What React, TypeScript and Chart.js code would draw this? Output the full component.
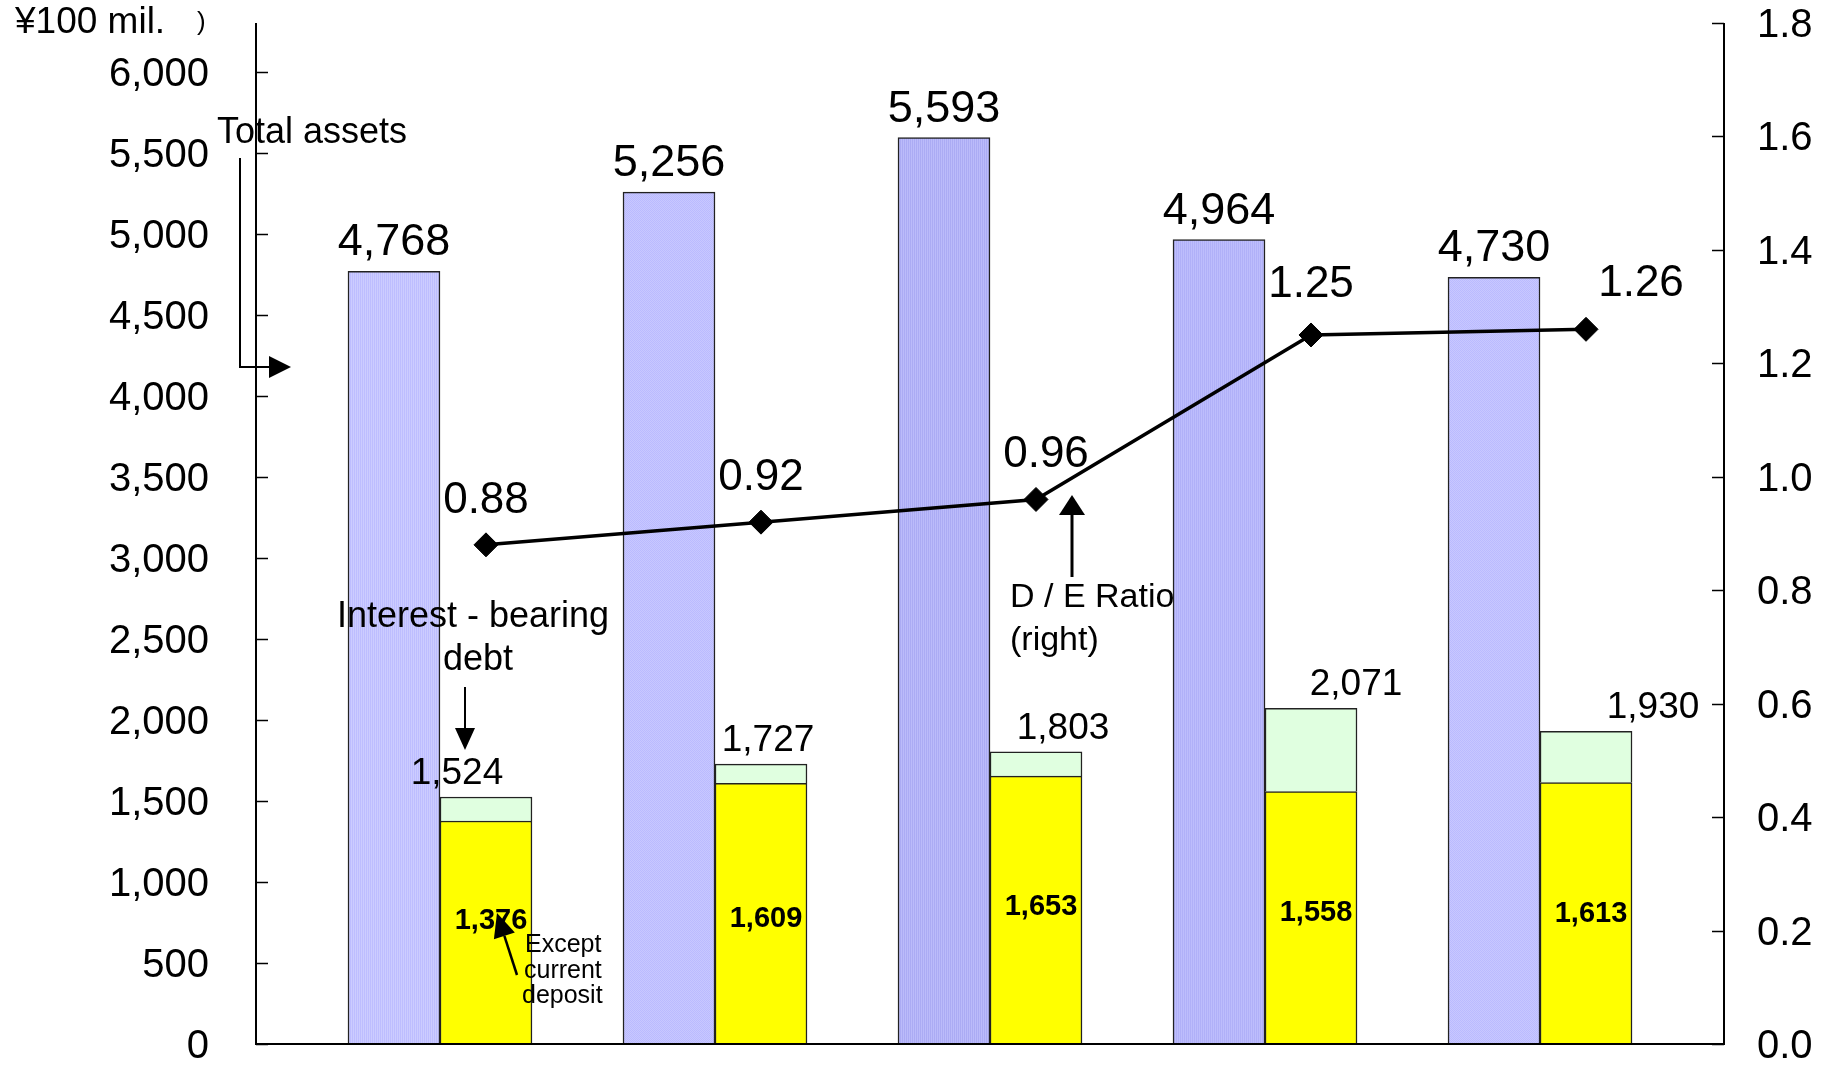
import React, { useEffect, useRef } from "react";
import { Chart, registerables } from "chart.js";

Chart.register(...registerables);

// ---------- data ----------
const categories = ["1", "2", "3", "4", "5"];
const totalAssets = [4768, 5256, 5593, 4964, 4730];
const interestBearingDebt = [1524, 1727, 1803, 2071, 1930];
const exceptCurrentDeposit = [1376, 1609, 1653, 1558, 1613];
const deRatio = [0.88, 0.92, 0.96, 1.25, 1.26];
const leftTicks = [0, 500, 1000, 1500, 2000, 2500, 3000, 3500, 4000, 4500, 5000, 5500, 6000];
const rightTicks = [0, 0.2, 0.4, 0.6, 0.8, 1.0, 1.2, 1.4, 1.6, 1.8];

// ---------- layout ----------
const W = 1824;
const H = 1066;
const LEFT = 256;
const RIGHT = 1724;
const TOP = 23;
const BOTTOM = 1044;
const BAR_W = 92;
const X_PAD = 0.669;
const UNIT_PX = (RIGHT - LEFT) / (categories.length - 1 + 2 * X_PAD);
const LINE_SHIFT = BAR_W / 2 / UNIT_PX;

const FONT = "'Liberation Sans', Arial, Helvetica, sans-serif";

// label offsets (annotation placement)
const debtLabelDx = [-29, 7, 27, 45, 67];
const ratioLabelDx = [0, 0, 10, 0, 55];
const ratioLabelDy = [32, 32, 32, 38, 33];
const yellowLabelDy = [-12, 5, -3, -5, 1];

function makePattern(a: string, b: string, kind: "v" | "d") {
  const c = document.createElement("canvas");
  c.width = 2;
  c.height = 2;
  const g = c.getContext("2d")!;
  g.fillStyle = a;
  g.fillRect(0, 0, 2, 2);
  g.fillStyle = b;
  if (kind === "v") {
    g.fillRect(0, 0, 1, 2);
  } else {
    g.fillRect(0, 0, 1, 1);
    g.fillRect(1, 1, 1, 1);
  }
  return g.createPattern(c, "repeat")!;
}

function arrow(ctx: CanvasRenderingContext2D, x1: number, y1: number, x2: number, y2: number, head = 20, half = 10, lw = 2.5) {
  const ang = Math.atan2(y2 - y1, x2 - x1);
  const bx = x2 - Math.cos(ang) * head;
  const by = y2 - Math.sin(ang) * head;
  ctx.save();
  ctx.strokeStyle = "#000";
  ctx.fillStyle = "#000";
  ctx.lineWidth = lw;
  ctx.beginPath();
  ctx.moveTo(x1, y1);
  ctx.lineTo(bx, by);
  ctx.stroke();
  ctx.beginPath();
  ctx.moveTo(x2, y2);
  ctx.lineTo(bx + Math.sin(ang) * half, by - Math.cos(ang) * half);
  ctx.lineTo(bx - Math.sin(ang) * half, by + Math.cos(ang) * half);
  ctx.closePath();
  ctx.fill();
  ctx.restore();
}

const decorPlugin = {
  id: "decor",
  afterDraw(chart: any) {
    const ctx: CanvasRenderingContext2D = chart.ctx;
    const ys = chart.scales.y;
    const y2s = chart.scales.y2;
    const ca = chart.chartArea;
    ctx.save();
    // axes
    ctx.strokeStyle = "#000";
    ctx.lineWidth = 2;
    ctx.beginPath();
    ctx.moveTo(ca.left, ca.top);
    ctx.lineTo(ca.left, ca.bottom);
    ctx.lineTo(ca.right, ca.bottom);
    ctx.lineTo(ca.right, ca.top);
    ctx.stroke();
    ctx.lineWidth = 1.5;
    ctx.beginPath();
    leftTicks.forEach((v) => {
      const y = Math.round(ys.getPixelForValue(v)) + 0.5;
      ctx.moveTo(ca.left, y);
      ctx.lineTo(ca.left + 12, y);
    });
    rightTicks.forEach((v) => {
      const y = Math.round(y2s.getPixelForValue(v)) + 0.5;
      ctx.moveTo(ca.right, y);
      ctx.lineTo(ca.right - 12, y);
    });
    ctx.stroke();

    const fmt = (v: number) => v.toLocaleString("en-US");
    ctx.fillStyle = "#000";
    ctx.textAlign = "center";
    ctx.textBaseline = "alphabetic";

    // total assets labels
    const m0 = chart.getDatasetMeta(1);
    ctx.font = `45px ${FONT}`;
    m0.data.forEach((el: any, i: number) => {
      ctx.fillText(fmt(totalAssets[i]), el.x, el.y - 16);
    });
    // yellow labels
    const m1 = chart.getDatasetMeta(2);
    ctx.font = `bold 29px ${FONT}`;
    ctx.textBaseline = "middle";
    m1.data.forEach((el: any, i: number) => {
      ctx.fillText(fmt(exceptCurrentDeposit[i]), el.x + 5, (el.y + el.base) / 2 + yellowLabelDy[i]);
    });
    // debt totals
    const m2 = chart.getDatasetMeta(3);
    ctx.font = `37px ${FONT}`;
    ctx.textBaseline = "alphabetic";
    m2.data.forEach((el: any, i: number) => {
      ctx.fillText(fmt(interestBearingDebt[i]), el.x + debtLabelDx[i], el.y - 13);
    });
    // D/E labels
    const ml = chart.getDatasetMeta(0);
    ctx.font = `44px ${FONT}`;
    ml.data.forEach((el: any, i: number) => {
      ctx.fillText(deRatio[i].toFixed(2), el.x + ratioLabelDx[i], el.y - ratioLabelDy[i]);
    });

    // unit label
    ctx.textAlign = "left";
    ctx.font = `37px ${FONT}`;
    ctx.fillText("¥100 mil.", 15, 33);
    ctx.font = `26px ${FONT}`;
    ctx.fillText(")", 197, 30);

    // Total assets annotation
    ctx.font = `36px ${FONT}`;
    ctx.fillText("Total assets", 217, 143);
    ctx.lineWidth = 2;
    ctx.beginPath();
    ctx.moveTo(240, 158);
    ctx.lineTo(240, 367);
    ctx.stroke();
    arrow(ctx, 239, 367, 291, 367, 22, 11, 2);

    // Interest-bearing debt annotation
    ctx.textAlign = "center";
    ctx.fillText("Interest - bearing", 473, 627);
    ctx.fillText("debt", 478, 670);
    arrow(ctx, 465, 687, 465, 750, 22, 10, 2);

    // Except current deposit
    ctx.textAlign = "left";
    ctx.font = `25px ${FONT}`;
    ctx.fillText("Except", 525, 952);
    ctx.fillText("current", 524, 978);
    ctx.fillText("deposit", 522, 1003);
    arrow(ctx, 517, 975, 497, 913, 24, 11, 2.5);

    // D/E ratio annotation
    ctx.font = `34px ${FONT}`;
    ctx.fillText("D / E Ratio", 1010, 607);
    ctx.fillText("(right)", 1010, 650);
    arrow(ctx, 1072, 577, 1072, 495, 20, 13, 3);

    ctx.restore();
  },
};

export default function App() {
  const ref = useRef<HTMLCanvasElement | null>(null);

  useEffect(() => {
    if (!ref.current) return;
    const light = makePattern("#CCCCFF", "#BDBDFF", "v");
    const dots = makePattern("#C8C8FF", "#BABAFF", "d");
    const dark = makePattern("#BBBBFA", "#ABABF4", "v");
    const dark2 = makePattern("#BDBDFC", "#B0B0F8", "v");
    const assetFills = [light, dots, dark, dark2, dots];

    const chart = new Chart(ref.current, {
      type: "bar",
      data: {
        datasets: [
          {
            type: "line",
            label: "D/E Ratio",
            data: deRatio.map((v, i) => ({ x: i, y: v })),
            xAxisID: "x2",
            yAxisID: "y2",
            borderColor: "#000",
            borderWidth: 3.5,
            pointStyle: "rectRot",
            pointRadius: 12,
            pointBackgroundColor: "#000",
            pointBorderColor: "#000",
            pointBorderWidth: 1,
            tension: 0,
            order: 0,
          } as any,
          {
            label: "Total assets",
            data: totalAssets.map((v, i) => ({ x: i, y: v })),
            stack: "assets",
            backgroundColor: assetFills,
            borderColor: "#222",
            borderWidth: 1.5,
            barThickness: BAR_W,
            xAxisID: "x",
            yAxisID: "y",
            order: 1,
          },
          {
            label: "Except current deposit",
            data: exceptCurrentDeposit.map((v, i) => ({ x: i, y: v })),
            stack: "debt",
            backgroundColor: "#FFFF00",
            borderColor: "#222",
            borderWidth: 1.5,
            barThickness: BAR_W,
            xAxisID: "x",
            yAxisID: "y",
            order: 1,
          },
          {
            label: "Interest-bearing debt",
            data: interestBearingDebt.map((v, i) => ({ x: i, y: v - exceptCurrentDeposit[i] })),
            stack: "debt",
            backgroundColor: "#E0FFE0",
            borderColor: "#222",
            borderWidth: 1.5,
            barThickness: BAR_W,
            xAxisID: "x",
            yAxisID: "y",
            order: 1,
          },
        ],
      },
      options: {
        responsive: false,
        animation: false,
        layout: { padding: { left: 0, right: 0, top: TOP, bottom: H - BOTTOM } },
        plugins: { legend: { display: false }, tooltip: { enabled: false } },
        scales: {
          x: {
            type: "linear",
            offset: false,
            min: -X_PAD,
            max: categories.length - 1 + X_PAD,
            display: false,
            afterBuildTicks: (s: any) => {
              s.ticks = categories.map((_, i) => ({ value: i }));
            },
          },
          x2: {
            type: "linear",
            offset: false,
            min: -X_PAD - LINE_SHIFT,
            max: categories.length - 1 + X_PAD - LINE_SHIFT,
            display: false,
          },
          y: {
            position: "left",
            min: 0,
            max: 6300,
            stacked: true,
            grid: { display: false, drawTicks: false },
            border: { display: false },
            ticks: {
              padding: 47,
              labelOffset: 3,
              color: "#000",
              font: { family: FONT, size: 40 },
              callback: (v: any) => Number(v).toLocaleString("en-US"),
            },
            afterBuildTicks: (s: any) => {
              s.ticks = leftTicks.map((v) => ({ value: v }));
            },
            afterFit: (s: any) => {
              s.width = LEFT;
              s.paddingTop = 0;
              s.paddingBottom = 0;
            },
          },
          y2: {
            position: "right",
            min: 0,
            max: 1.8,
            grid: { display: false, drawTicks: false },
            border: { display: false },
            ticks: {
              padding: 33,
              labelOffset: 3,
              color: "#000",
              font: { family: FONT, size: 40 },
              callback: (v: any) => Number(v).toFixed(1),
            },
            afterBuildTicks: (s: any) => {
              s.ticks = rightTicks.map((v) => ({ value: v }));
            },
            afterFit: (s: any) => {
              s.width = W - RIGHT;
              s.paddingTop = 0;
              s.paddingBottom = 0;
            },
          },
        },
      } as any,
      plugins: [decorPlugin],
    });
    return () => chart.destroy();
  }, []);

  return (
    <div style={{ position: "fixed", left: 0, top: 0, width: W, height: H, background: "#fff" }}>
      <canvas ref={ref} width={W} height={H} style={{ width: W, height: H, display: "block" }} />
    </div>
  );
}
